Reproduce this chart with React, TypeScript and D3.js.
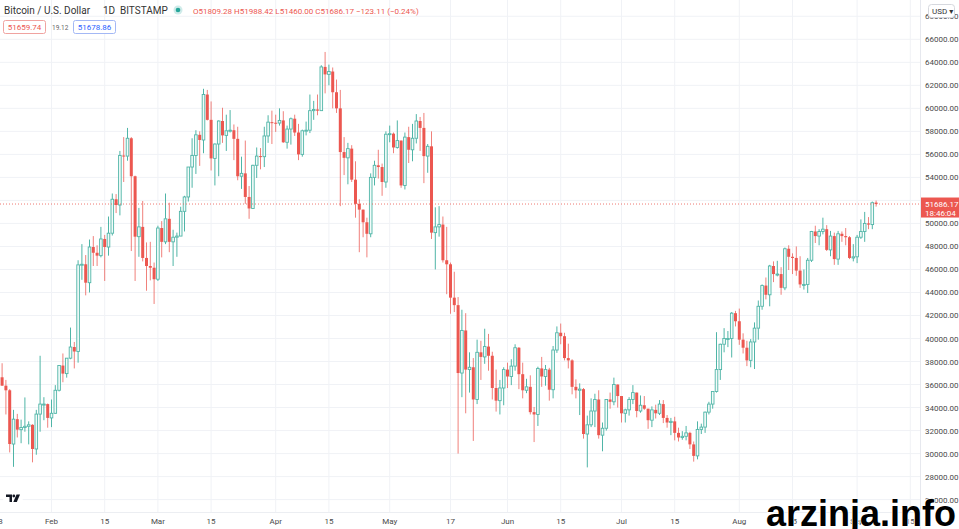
import React from 'react';
import * as d3 from 'd3';

// ---- DATA (prices in thousands of USD, daily candles [open, high, low, close]) ----
const firstDay = Date.UTC(2021, 0, 18);

const janCandles = [
  [36.0, 37.3, 34.8, 36.63], [36.63, 37.85, 35.9, 35.9], [35.9, 36.4, 33.4, 35.5],
  [35.5, 35.6, 30.1, 30.83], [30.83, 33.8, 28.85, 32.99], [32.99, 33.45, 31.4, 32.08],
  [32.08, 32.95, 30.9, 32.27], [32.27, 34.88, 31.9, 32.37], [32.37, 32.8, 30.8, 32.5],
  [32.5, 32.55, 29.24, 30.4], [30.4, 33.8, 29.9, 33.43], [33.43, 38.5, 31.9, 34.3],
  [34.3, 34.9, 32.9, 34.3], [34.3, 34.35, 32.25, 33.1],
];
const febCandles = [
  [33.1, 34.7, 32.3, 33.5], [33.5, 35.95, 33.45, 35.5], [35.5, 37.65, 35.4, 37.65],
  [37.65, 38.7, 36.2, 36.95], [36.95, 38.3, 36.6, 38.29], [38.29, 40.95, 38.2, 39.26],
  [39.26, 39.7, 37.4, 38.87], [38.87, 46.8, 37.9, 46.4], [46.4, 48.2, 45.1, 46.45],
  [46.45, 47.25, 43.75, 44.85], [44.85, 48.6, 44.0, 47.95], [47.95, 48.9, 46.3, 47.45],
  [47.45, 48.1, 46.3, 47.2], [47.2, 49.7, 47.05, 48.65], [48.65, 49.0, 45.0, 47.95],
  [47.95, 50.6, 47.2, 49.15], [49.15, 52.6, 48.95, 52.1], [52.1, 52.55, 50.9, 51.6],
  [51.6, 56.3, 50.7, 55.9], [55.9, 57.5, 53.6, 55.85], [55.85, 58.3, 55.45, 57.4],
  [57.4, 57.5, 47.6, 54.1], [54.1, 54.15, 45.0, 48.85], [48.85, 51.35, 47.1, 49.7],
  [49.7, 51.95, 46.7, 47.0], [47.0, 48.35, 44.15, 46.3], [46.3, 48.4, 45.05, 46.15],
  [46.15, 46.6, 43.0, 45.15],
];
const marCandles = [
  [45.15, 49.8, 45.0, 49.6], [49.6, 50.2, 47.05, 48.4], [48.4, 52.6, 48.2, 50.4],
  [50.4, 51.8, 47.5, 48.4], [48.4, 49.45, 46.3, 48.8], [48.8, 49.2, 47.1, 48.9],
  [48.9, 51.45, 48.9, 51.05], [51.05, 52.4, 49.3, 52.3], [52.3, 54.9, 51.9, 54.9],
  [54.9, 57.4, 53.1, 55.9], [55.9, 58.1, 54.3, 57.7], [57.7, 58.0, 55.0, 57.25],
  [57.25, 61.7, 56.1, 61.2], [61.2, 61.6, 58.95, 59.0], [59.0, 60.6, 54.6, 55.65],
  [55.65, 56.95, 53.3, 56.9], [56.9, 58.95, 54.1, 58.9], [58.9, 60.05, 57.0, 57.65],
  [57.65, 59.45, 56.3, 58.05], [58.05, 59.85, 57.9, 58.1], [58.1, 58.6, 55.5, 57.35],
  [57.35, 58.4, 53.75, 54.1], [54.1, 55.8, 53.0, 54.35], [54.35, 57.2, 51.7, 52.3],
  [52.3, 53.25, 50.4, 51.3], [51.3, 55.1, 51.3, 55.05], [55.05, 56.6, 53.95, 55.85],
  [55.85, 56.55, 54.7, 55.8], [55.8, 58.4, 54.9, 57.6], [57.6, 59.4, 57.0, 58.8],
  [58.8, 59.8, 56.9, 58.75],
];
const aprCandles = [
  [58.75, 59.45, 57.95, 58.72], [58.72, 60.0, 58.5, 58.95], [58.95, 59.75, 57.0, 57.05],
  [57.05, 58.5, 56.5, 58.2], [58.2, 59.2, 56.85, 59.1], [59.1, 59.45, 57.6, 57.9],
  [57.9, 58.65, 55.5, 56.0], [56.0, 58.15, 55.8, 58.05], [58.05, 58.85, 57.65, 58.1],
  [58.1, 61.2, 57.85, 59.8], [59.8, 60.65, 59.0, 59.9], [59.9, 61.2, 59.4, 59.8],
  [59.8, 63.75, 59.8, 63.6], [63.6, 64.9, 61.3, 62.95], [62.95, 63.8, 62.0, 63.2],
  [63.2, 63.55, 60.0, 61.4], [61.4, 62.5, 59.6, 60.0], [60.0, 61.6, 51.5, 56.2],
  [56.2, 57.5, 54.2, 55.7], [55.7, 57.0, 53.4, 56.5], [56.5, 56.8, 53.6, 53.8],
  [53.8, 55.4, 50.5, 51.7], [51.7, 52.1, 47.5, 51.2], [51.2, 51.2, 48.8, 50.1],
  [50.1, 50.5, 47.05, 49.1], [49.1, 54.35, 48.8, 54.0], [54.0, 55.45, 53.3, 55.05],
  [55.05, 56.4, 53.9, 54.9], [54.9, 55.2, 52.4, 53.6], [53.6, 58.0, 53.1, 57.75],
];
const mayCandles = [
  [57.75, 58.5, 57.05, 57.8], [57.8, 57.9, 56.1, 56.6], [56.6, 58.95, 56.5, 57.2],
  [57.2, 57.2, 53.1, 53.3], [53.3, 57.9, 52.95, 57.5], [57.5, 58.4, 55.25, 56.4],
  [56.4, 58.65, 55.4, 57.4], [57.4, 59.5, 56.95, 58.9], [58.9, 59.25, 56.3, 58.3],
  [58.3, 59.6, 53.5, 55.85], [55.85, 56.9, 54.4, 56.7], [56.7, 58.0, 48.65, 49.2],
  [49.2, 51.4, 46.0, 49.7], [49.7, 51.5, 48.85, 49.9], [49.9, 50.6, 46.6, 46.8],
  [46.8, 49.7, 43.85, 46.45], [46.45, 46.6, 42.15, 43.55], [43.55, 45.8, 42.3, 42.9],
  [42.9, 43.6, 30.0, 37.0], [37.0, 42.5, 34.9, 40.7], [40.7, 42.2, 33.5, 37.3],
  [37.3, 38.8, 35.3, 37.5], [37.5, 38.3, 31.1, 34.7], [34.7, 39.9, 34.3, 38.8],
  [38.8, 39.8, 36.4, 38.4], [38.4, 40.85, 37.8, 39.3], [39.3, 40.4, 37.2, 38.5],
  [38.5, 38.85, 34.7, 35.7], [35.7, 37.3, 33.65, 34.6], [34.6, 36.4, 33.4, 35.7],
  [35.7, 37.5, 34.2, 37.3],
];
const junCandles = [
  [37.3, 37.9, 35.7, 36.7], [36.7, 38.2, 35.95, 37.6], [37.6, 39.5, 37.2, 39.2],
  [39.2, 39.25, 35.6, 36.9], [36.9, 37.9, 34.8, 35.5], [35.5, 36.5, 35.25, 35.8],
  [35.8, 36.8, 33.4, 33.6], [33.6, 34.05, 31.0, 33.4], [33.4, 37.55, 32.4, 37.4],
  [37.4, 38.4, 35.8, 36.7], [36.7, 37.7, 35.9, 37.3], [37.3, 37.45, 34.6, 35.55],
  [35.55, 39.35, 34.8, 39.0], [39.0, 41.05, 38.75, 40.5], [40.5, 41.3, 39.5, 40.2],
  [40.2, 40.5, 38.1, 38.3], [38.3, 39.55, 37.4, 38.1], [38.1, 38.2, 35.15, 35.8],
  [35.8, 36.45, 34.8, 35.5], [35.5, 36.1, 33.35, 35.6], [35.6, 35.7, 31.3, 31.7],
  [31.7, 33.3, 28.8, 32.5], [32.5, 34.8, 32.3, 33.7], [33.7, 35.2, 32.3, 34.7],
  [34.7, 35.5, 31.3, 31.6], [31.6, 32.7, 30.2, 32.2], [32.2, 34.7, 32.0, 34.7],
  [34.7, 35.3, 33.9, 34.5], [34.5, 36.6, 34.2, 36.0], [36.0, 36.0, 34.0, 35.0],
];
const julCandles = [
  [35.0, 35.0, 32.7, 33.5], [33.5, 33.9, 32.7, 33.8], [33.8, 34.9, 33.3, 34.7],
  [34.7, 35.95, 34.3, 35.3], [35.3, 35.3, 33.15, 33.7], [33.7, 35.05, 33.55, 34.2],
  [34.2, 35.0, 33.8, 33.9], [33.9, 33.9, 32.15, 32.9], [32.9, 34.1, 32.3, 33.8],
  [33.8, 34.25, 33.05, 33.5], [33.5, 34.65, 33.35, 34.3], [34.3, 34.65, 32.65, 33.1],
  [33.1, 33.35, 32.25, 32.7], [32.7, 33.1, 31.6, 32.8], [32.8, 33.2, 31.15, 31.8],
  [31.8, 32.25, 31.05, 31.4], [31.4, 31.95, 31.2, 31.5], [31.5, 32.4, 31.15, 31.8],
  [31.8, 31.9, 30.4, 30.8], [30.8, 31.05, 29.3, 29.8], [29.8, 32.8, 29.5, 32.1],
  [32.1, 32.6, 31.7, 32.3], [32.3, 33.65, 31.8, 33.6], [33.6, 34.5, 33.4, 34.3],
  [34.3, 35.4, 33.9, 35.4], [35.4, 40.55, 35.3, 37.3], [37.3, 39.55, 36.4, 39.5],
  [39.5, 40.9, 38.8, 40.0], [40.0, 40.65, 39.25, 40.0], [40.0, 42.3, 38.35, 42.2],
  [42.2, 42.4, 41.05, 41.5],
];
const augCandles = [
  [41.5, 42.6, 39.45, 39.9], [39.9, 40.45, 38.7, 39.2], [39.2, 39.8, 37.6, 38.1],
  [38.1, 39.95, 37.5, 39.7], [39.7, 41.4, 37.35, 40.9], [40.9, 43.3, 39.9, 42.8],
  [42.8, 44.7, 42.5, 44.6], [44.6, 45.3, 43.4, 43.8], [43.8, 46.4, 42.8, 46.3],
  [46.3, 46.7, 44.9, 45.6], [45.6, 46.75, 45.4, 45.6], [45.6, 46.2, 43.8, 44.4],
  [44.4, 47.9, 44.2, 47.8], [47.8, 48.1, 45.95, 47.1], [47.1, 47.4, 45.6, 47.0],
  [47.0, 48.0, 45.45, 45.9], [45.9, 47.15, 44.4, 44.7], [44.7, 46.0, 44.25, 44.7],
  [44.7, 47.0, 43.95, 46.8], [46.8, 49.35, 46.65, 49.3], [49.3, 49.8, 48.3, 48.9],
  [48.9, 49.5, 48.1, 49.3], [49.3, 50.5, 49.05, 49.5], [49.5, 49.85, 47.6, 47.7],
  [47.7, 49.35, 47.15, 48.9], [48.9, 49.2, 46.4, 46.9], [46.9, 49.35, 46.4, 49.1],
  [49.1, 49.3, 48.4, 48.9], [48.9, 49.6, 48.1, 48.8], [48.8, 48.9, 46.9, 47.0],
  [47.0, 48.2, 46.7, 47.1],
];
const sepCandles = [
  [47.1, 49.0, 46.55, 48.8], [48.8, 50.35, 48.65, 49.3], [49.3, 51.0, 48.4, 50.0],
  [50.0, 50.55, 49.5, 49.9], [49.9, 51.9, 49.5, 51.8], [51.809, 51.988, 51.46, 51.686],
];

const priceTicks = d3.range(26000, 68001, 2000);
const timeTickDates = [
  '2021-01-18', '2021-02-01', '2021-02-15', '2021-03-01', '2021-03-15', '2021-04-01',
  '2021-04-15', '2021-05-01', '2021-05-17', '2021-06-01', '2021-06-15', '2021-07-01',
  '2021-07-15', '2021-08-01', '2021-08-15', '2021-09-01', '2021-09-15',
];
const timeTickLabels = [
  '18', 'Feb', '15', 'Mar', '15', 'Apr', '15', 'May', '17', 'Jun', '15', 'Jul', '15',
  'Aug', '15', 'Sep', '15',
];

const lastPrice = 51686.17;
const headerTitle = ['Bitcoin / U.S. Dollar', '1D', 'BITSTAMP'];
const ohlcText = 'O51809.28 H51988.42 L51460.00 C51686.17 −123.11 (−0.24%)';

// ---- STYLE ----
const W = 959;
const H = 529;
const AXIS_X = 920;
const AXIS_Y = 512;
const UP = '#4fb5a7';
const DOWN = '#ec5750';
const GRID = '#f0f2f6';
const FONT = 'Roboto, "Noto Sans", "DejaVu Sans", sans-serif';

const DAY = 86400000;

export default function App() {
  const all = [
    ...janCandles, ...febCandles, ...marCandles, ...aprCandles, ...mayCandles,
    ...junCandles, ...julCandles, ...augCandles, ...sepCandles,
  ];
  const candles = all.map((c, i) => ({
    date: new Date(firstDay + i * DAY),
    o: c[0] * 1000, h: c[1] * 1000, l: c[2] * 1000, c: c[3] * 1000,
  }));

  const x = d3
    .scaleUtc()
    .domain([new Date(Date.UTC(2021, 1, 1)), new Date(Date.UTC(2021, 8, 6))])
    .range([51.5, 51.5 + 217 * 3.8]);
  const y = d3.scaleLinear().domain([28000, 66000]).range([476.6, 39.3]);
  const fmt = d3.format('.2f');
  const bodyW = 2.6;
  const yp = y(lastPrice);

  return (
    <svg
      width={W}
      height={H}
      style={{ position: 'fixed', left: 0, top: 0, background: '#fff', fontFamily: FONT }}
    >
      <defs>
        <clipPath id="plot">
          <rect x={0} y={0} width={AXIS_X} height={AXIS_Y} />
        </clipPath>
      </defs>
      <rect x={0} y={0} width={W} height={H} fill="#fff" />

      {/* grid */}
      <g clipPath="url(#plot)">
        {priceTicks.map((t) => (
          <line key={'h' + t} x1={0} x2={AXIS_X} y1={y(t)} y2={y(t)} stroke={GRID} strokeWidth={1} />
        ))}
        {timeTickDates.map((d) => {
          const xx = x(new Date(d + 'T00:00:00Z'));
          return <line key={'v' + d} x1={xx} x2={xx} y1={0} y2={AXIS_Y} stroke={GRID} strokeWidth={1} />;
        })}
      </g>

      {/* candles */}
      <g clipPath="url(#plot)">
        {candles.map((d, i) => {
          const cx = x(d.date);
          const up = d.c >= d.o;
          const top = y(Math.max(d.o, d.c));
          const bot = y(Math.min(d.o, d.c));
          const hgt = Math.max(bot - top, 1);
          if (up) {
            return (
              <g key={i}>
                <line x1={cx} x2={cx} y1={y(d.h)} y2={top} stroke={UP} strokeWidth={1} />
                <line x1={cx} x2={cx} y1={top + hgt} y2={y(d.l)} stroke={UP} strokeWidth={1} />
                <rect x={cx - bodyW / 2} y={top} width={bodyW} height={hgt} fill="#f3fbfa" stroke={UP} strokeWidth={0.9} />
              </g>
            );
          }
          return (
            <g key={i}>
              <line x1={cx} x2={cx} y1={y(d.h)} y2={y(d.l)} stroke={DOWN} strokeWidth={1} opacity={0.75} />
              <rect x={cx - 1.5} y={top} width={3} height={hgt} fill={DOWN} />
            </g>
          );
        })}
      </g>

      {/* last price line */}
      <line x1={0} x2={AXIS_X} y1={yp} y2={yp} stroke={DOWN} strokeWidth={1} strokeDasharray="1 2" opacity={0.8} />

      {/* axes separators */}
      <line x1={AXIS_X + 0.5} x2={AXIS_X + 0.5} y1={0} y2={H} stroke="#e6e8ee" />
      <line x1={0} x2={AXIS_X} y1={AXIS_Y + 0.5} y2={AXIS_Y + 0.5} stroke="#eceef2" />

      {/* price axis labels */}
      {priceTicks.map((t) => (
        <text key={'pl' + t} x={925} y={y(t) + 3} fontSize={8} fill="#4a4a4a">
          {fmt(t)}
        </text>
      ))}

      {/* last price label */}
      <rect x={AXIS_X + 1} y={yp - 6.5} width={W - AXIS_X - 1} height={20} fill={DOWN} />
      <text x={925} y={yp + 3} fontSize={8} fill="#fff">{fmt(lastPrice)}</text>
      <text x={925} y={yp + 11.5} fontSize={8} fill="#fff">18:46:04</text>

      {/* USD selector */}
      <rect x={928.5} y={4.5} width={26} height={13} rx={3} fill="#fff" stroke="#d6d8de" />
      <text x={932} y={14} fontSize={8} fill="#333">USD ▾</text>

      {/* time axis labels */}
      {timeTickDates.map((d, i) => (
        <text
          key={'tl' + d}
          x={x(new Date(d + 'T00:00:00Z'))}
          y={524}
          fontSize={8}
          fill="#4a4a4a"
          textAnchor="middle"
        >
          {timeTickLabels[i]}
        </text>
      ))}

      {/* header */}
      <text x={4} y={14} fontSize={10} fill="#333">{headerTitle[0]}</text>
      <text x={103} y={14} fontSize={10} fill="#333">{headerTitle[1]}</text>
      <text x={120} y={14} fontSize={10} fill="#333">{headerTitle[2]}</text>
      <circle cx={178} cy={10} r={4.5} fill="#26a69a" opacity={0.22} />
      <circle cx={178} cy={10} r={2.3} fill="#26a69a" />
      <text x={193} y={13.5} fontSize={8} fill={DOWN}>{ohlcText}</text>

      <rect x={3.5} y={20.5} width={42} height={13} rx={2} fill="#fff" stroke="#f0a3a0" />
      <text x={24.5} y={30} fontSize={8} fill={DOWN} textAnchor="middle">51659.74</text>
      <text x={52} y={30} fontSize={6.5} fill="#666">19.12</text>
      <rect x={73.5} y={20.5} width={42} height={13} rx={2} fill="#fff" stroke="#a3b8f5" />
      <text x={94.5} y={30} fontSize={8} fill="#2962ff" textAnchor="middle">51678.86</text>

      {/* TradingView logo */}
      <circle cx={13} cy={498} r={10} fill="#fff" />
      <path d="M6 494.5 H12 V502 H9.5 V497 H6 Z" fill="#131722" />
      <circle cx={13.8} cy={496} r={1.4} fill="#131722" />
      <path d="M16.5 494.5 H20 L16.8 502 H13.3 Z" fill="#131722" />

      {/* watermark */}
      <text
        x={766}
        y={526}
        fontSize={36}
        fontWeight="bold"
        fontFamily='"Liberation Sans", Arial, sans-serif'
        fill="#000"
        stroke="#fff"
        strokeWidth={1.5}
        paintOrder="stroke"
      >
        arzinja.info
      </text>
    </svg>
  );
}
